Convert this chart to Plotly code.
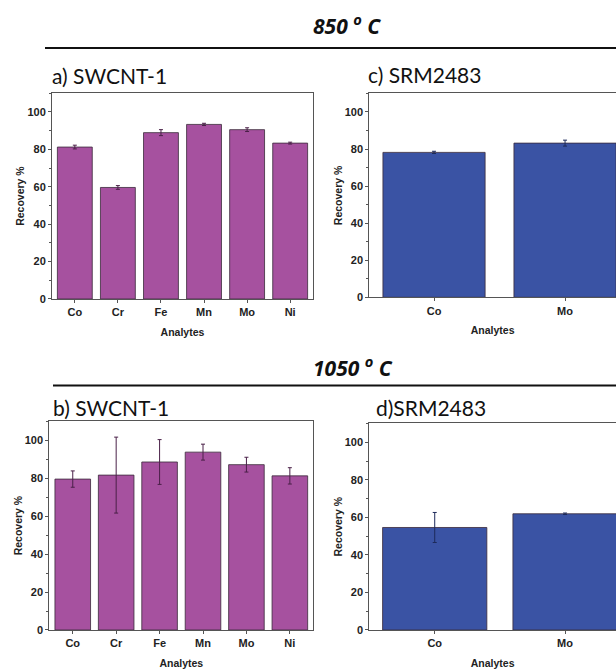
import plotly.graph_objects as go

W, H = 616, 669

# ---------------- data ----------------
analytes_swcnt = ["Co", "Cr", "Fe", "Mn", "Mo", "Ni"]
analytes_srm = ["Co", "Mo"]

rec_a_850 = [81.2, 59.6, 88.9, 93.3, 90.5, 83.3]
err_a_850 = [1.0, 1.0, 1.6, 0.6, 1.0, 0.5]

rec_c_850 = [78.2, 83.2]
err_c_850 = [0.6, 1.6]

rec_b_1050 = [79.5, 81.6, 88.5, 93.7, 87.1, 81.2]
err_b_1050 = [4.3, 20.0, 11.8, 4.2, 3.9, 4.3]

rec_d_1050 = [54.6, 61.9]
err_d_1050 = [8.0, 0.4]

PURPLE = "#A6519F"
BLUE = "#3A53A4"


def px_x(v):
    return v / W


def px_y(v):
    return 1 - v / H


fig = go.Figure()

panels = [
    ("", analytes_swcnt, rec_a_850, err_a_850, PURPLE, 0.81, (52, 313), (94, 301.7), [-0.53, 5.53], True),
    ("2", analytes_srm, rec_c_850, err_c_850, BLUE, 0.78, (369.3, 616), (94.3, 300), [-0.494, 1.389], False),
    ("3", analytes_swcnt, rec_b_1050, err_b_1050, PURPLE, 0.82, (49.3, 313.3), (425, 635.7), [-0.54, 5.54], True),
    ("4", analytes_srm, rec_d_1050, err_d_1050, BLUE, 0.80, (369.3, 616), (427.3, 635.7), [-0.502, 1.391], False),
]

tickfont = dict(family="Liberation Sans, Arial", size=11, color="#222", weight="bold")
titlefont = dict(family="Liberation Sans, Arial", size=10.5, color="#222", weight="bold")

for ax, cats, vals, errs, col, bw, xd, yd, xr, mirror_y in panels:
    errcol = "#4a2048" if col == PURPLE else "#1d2a5a"
    fig.add_trace(go.Bar(
        x=cats, y=vals, width=bw,
        marker=dict(color=col, line=dict(color="#3a2a3a", width=0.8)),
        error_y=dict(type="data", array=errs, visible=True, color=errcol, thickness=1, width=2),
        xaxis="x" + ax, yaxis="y" + ax, showlegend=False,
    ))
    xkey = "xaxis" + ax
    ykey = "yaxis" + ax
    fig.layout[xkey] = dict(
        domain=[px_x(xd[0]), min(1, px_x(xd[1]))], anchor="y" + ax,
        range=xr, type="category",
        showline=True, linecolor="#555", linewidth=1, mirror=True,
        ticks="outside", ticklen=3, tickcolor="#555",
        tickfont=tickfont, showgrid=False, zeroline=False,
        title=dict(text="Analytes", font=titlefont, standoff=11),
    )
    fig.layout[ykey] = dict(
        domain=[px_y(yd[1]), px_y(yd[0])], anchor="x" + ax,
        range=[0, 110], tickvals=[0, 20, 40, 60, 80, 100],
        showline=True, linecolor="#555", linewidth=1, mirror=mirror_y,
        ticks="outside", ticklen=3, tickcolor="#555",
        minor=dict(ticks="outside", dtick=10, ticklen=2, tickcolor="#555"),
        tickfont=tickfont, showgrid=False, zeroline=False,
        title=dict(text="Recovery %", font=titlefont, standoff=0),
    )

# header lines
fig.add_shape(type="line", xref="paper", yref="paper",
              x0=px_x(45), x1=1, y0=px_y(48.5), y1=px_y(48.5),
              line=dict(color="#111", width=2))
fig.add_shape(type="line", xref="paper", yref="paper",
              x0=px_x(53), x1=1, y0=px_y(389), y1=px_y(389),
              line=dict(color="#111", width=2))

hfont = dict(family="Open Sans", size=21, color="#111", weight="bold", style="italic")
lfont = dict(family="Lato", size=21, color="#111")

annos = [
    ("850 <sup>o</sup> C", 311, 25, hfont),
    ("1050 <sup>o</sup> C", 311, 370, hfont),
    ("a) SWCNT-1", 50, 76.5, lfont),
    ("c) SRM2483", 366, 75, lfont),
    ("b) SWCNT-1", 51, 411.5, lfont),
    ("d)SRM2483", 374, 411.5, lfont),
]
for txt, xp, yp, f in annos:
    fig.add_annotation(text=txt, xref="paper", yref="paper", x=px_x(xp), y=px_y(yp),
                       xanchor="left", yanchor="middle", showarrow=False, font=f)

fig.update_layout(
    width=W, height=H, margin=dict(l=0, r=0, t=0, b=0),
    paper_bgcolor="white", plot_bgcolor="white", bargap=0.2,
)

fig.write_html(
    "out.html",
    config={"displayModeBar": False},
    post_script="document.body.style.margin='0';document.body.style.overflow='hidden';",
)
